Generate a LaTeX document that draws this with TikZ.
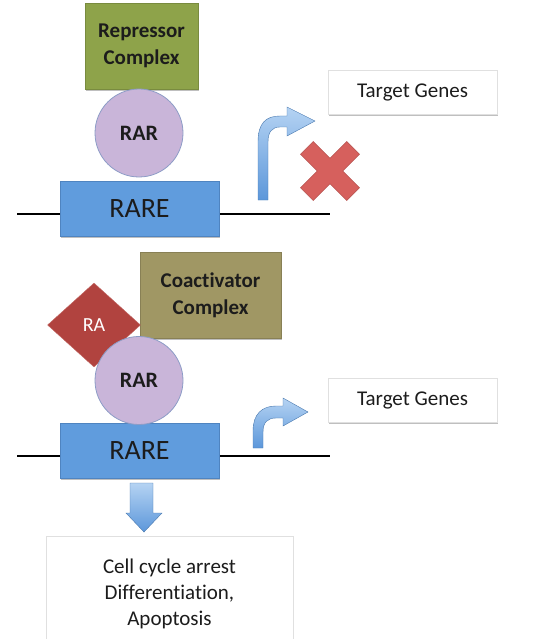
\documentclass[tikz,border=0pt]{standalone}
\usepackage{fontspec}
\setmainfont[Ligatures=NoCommon]{Carlito}
\usetikzlibrary{shadows,shapes.geometric}
\definecolor{repcol}{HTML}{8EA34A}
\definecolor{coacol}{HTML}{A09764}
\definecolor{rarcol}{HTML}{C9B5D9}
\definecolor{rarbd}{HTML}{8C9CC6}
\definecolor{rarecol}{HTML}{609CDD}
\definecolor{rarebd}{HTML}{4F84C0}
\definecolor{racol}{HTML}{B1433F}
\definecolor{xcol}{HTML}{D6605D}
\definecolor{arrlight}{HTML}{B5D3F3}
\definecolor{arrdark}{HTML}{5C97DA}
\definecolor{txt}{HTML}{1C1C1C}
\begin{document}
\begin{tikzpicture}[x=1pt,y=-1pt,
  shd/.style={drop shadow={shadow xshift=1pt,shadow yshift=-2pt,opacity=0.25,fill=black}},
  txtfont/.style={font=\fontsize{21}{26}\selectfont, text=txt},
  complexbox/.style={rectangle, draw=#1!85!black, fill=#1, minimum width=113, minimum height=86, inner sep=0, align=center, font=\bfseries\fontsize{21}{27}\selectfont, text=txt, shd},
  rarnode/.style={circle, draw=rarbd, line width=0.8pt, fill=rarcol, minimum size=88, inner sep=0, font=\bfseries\fontsize{22}{26}\selectfont, text=txt},
  rarenode/.style={rectangle, draw=rarebd, fill=rarecol, minimum width=159, minimum height=55, inner sep=0, font=\fontsize{28}{32}\selectfont, text=txt, shd},
  tgbox/.style={rectangle, draw=black!12, fill=white, minimum width=169, minimum height=44, inner sep=0, align=center, txtfont, shd},
  dna/.style={line width=2pt, black},
  bentarrow/.style={draw=arrdark!80!black, line width=0.4pt, top color=arrlight, bottom color=arrdark},
]
\useasboundingbox (0,0) rectangle (550,639);
\clip (0,0) rectangle (550,639);

% ---------- top panel ----------
\coordinate (d1l) at (17,214);
\coordinate (d1r) at (330,214);
\draw[dna] (d1l) -- (d1r);
\node[rarenode] (rare1) at (139.5,208.5) {\raisebox{-2pt}{RARE}};
\node[complexbox=repcol] (rep) at (141.5,46) {Repressor\\Complex};
\node[rarnode] (rar1) at (139,133) {RAR};
\node[tgbox] (tg1) at (412.5,92) {\raisebox{-2pt}{Target Genes}};

\path[bentarrow] (258,200) -- (258,142) .. controls (258,123) and (266,116) .. (280,116) -- (287,116) -- (287,107) -- (315,121) -- (287,136) -- (287,127) -- (280,127) .. controls (272,127) and (268,132) .. (268,142) -- (268,200) -- cycle;

\begin{scope}[shift={(330,171)},rotate=45]
  \path[fill=xcol, draw=xcol!85!black, line width=0.4pt]
    (32.7,9) -- (9,9) -- (9,32.7) -- (-9,32.7) -- (-9,9) -- (-32.7,9) -- (-32.7,-9) -- (-9,-9) -- (-9,-32.7) -- (9,-32.7) -- (9,-9) -- (32.7,-9) -- cycle;
\end{scope}

% ---------- bottom panel ----------
\coordinate (d2l) at (17,456);
\coordinate (d2r) at (330,456);
\draw[dna] (d2l) -- (d2r);
\node[rarenode] (rare2) at (139.5,450.5) {\raisebox{-2pt}{RARE}};
\node[complexbox=coacol, minimum width=141] (coa) at (210.5,295) {Coactivator\\Complex};
\node[diamond, fill=racol, draw=racol!80!white, minimum width=93, minimum height=84, inner sep=0, font=\fontsize{20}{24}\selectfont, text=white] (ra) at (94,325) {RA};
\node[rarnode] (rar2) at (139,380.5) {RAR};
\node[tgbox] (tg2) at (412.5,400) {\raisebox{-2pt}{Target Genes}};

\path[bentarrow] (253,448) -- (253,431) .. controls (253,414) and (262,406) .. (276,406) -- (283,406) -- (283,398) -- (308,412) -- (283,426) -- (283,418) -- (276,418) .. controls (268,418) and (263,422) .. (263,432) -- (263,448) -- cycle;

\node[tgbox, minimum width=247, minimum height=116] (res) at (169.5,594) {Cell cycle arrest\\Differentiation,\\Apoptosis};

\path[bentarrow] (130,483) -- (153,483) -- (153,513) -- (162,513) -- (144,532) -- (126,513) -- (130,513) -- cycle;
\end{tikzpicture}
\end{document}
